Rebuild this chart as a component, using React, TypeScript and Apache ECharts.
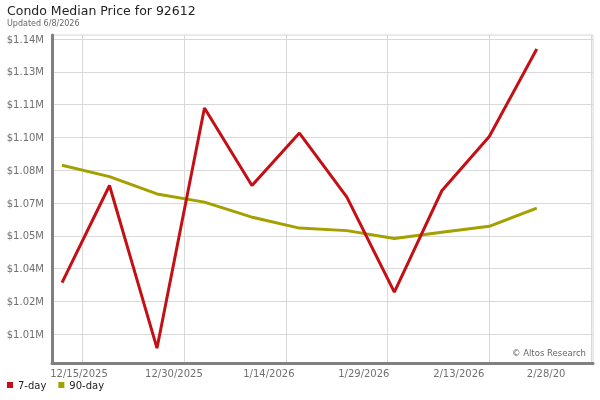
import React, { useEffect, useRef } from "react";
import * as echarts from "echarts";

const dates = [
  "2025-12-12", "2025-12-19", "2025-12-26", "2026-01-02", "2026-01-09", "2026-01-16",
  "2026-01-23", "2026-01-30", "2026-02-06", "2026-02-13", "2026-02-20",
];
const sevenDay = [
  1032900, 1075500, 1004100, 1109500, 1075500, 1098500, 1070400, 1028700, 1073200, 1097000, 1135400,
];
const ninetyDay = [
  1084400, 1079400, 1071800, 1068200, 1061600, 1056800, 1055700, 1052200, 1055000, 1057600, 1065600,
];
const xTickDates = ["2025-12-15", "2025-12-30", "2026-01-14", "2026-01-29", "2026-02-13", "2026-02-28"];
const xLabelDates = [
  "2025-12-14T12:00", "2025-12-28T12:00", "2026-01-11T12:00", "2026-01-25T12:00", "2026-02-08T12:00", "2026-02-21T09:00",
];
const xLabels = ["12/15/2025", "12/30/2025", "1/14/2026", "1/29/2026", "2/13/2026", "2/28/20"];
const yTicks = [1010200, 1024600, 1039000, 1053400, 1067800, 1082200, 1096600, 1111000, 1125400, 1139800];

const ts = (s: string) => new Date(s.length === 10 ? s + "T00:00" : s).getTime();

export default function App() {
  const ref = useRef<HTMLDivElement>(null);
  useEffect(() => {
    if (!ref.current) return;
    const chart = echarts.init(ref.current, null, { renderer: "svg" });
    const font = "DejaVu Sans";
    const labelTs = xLabelDates.map(ts);
    chart.setOption({
      animation: false,
      textStyle: { fontFamily: font },
      title: {
        text: "Condo Median Price for 92612",
        subtext: "Updated 6/8/2026",
        left: 2,
        top: 2,
        itemGap: 2,
        padding: [2, 5, 2, 5],
        textStyle: { fontFamily: font, fontSize: 12.5, fontWeight: "normal", color: "#222" },
        subtextStyle: { fontFamily: font, fontSize: 8, color: "#666" },
      },
      legend: {
        data: ["7-day", "90-day"],
        left: 2,
        bottom: 5,
        icon: "rect",
        itemWidth: 6,
        itemHeight: 6,
        itemGap: 12,
        textStyle: { fontFamily: font, fontSize: 10, color: "#222" },
      },
      grid: {
        left: 52,
        right: 7,
        top: 35,
        bottom: 37,
        show: true,
        borderColor: "#d6d6d6",
        borderWidth: 1,
      },
      xAxis: {
        type: "value",
        min: ts("2025-12-10T12:30"),
        max: ts("2026-02-28T07:00"),
        axisLine: { show: true, lineStyle: { color: "#808080", width: 3 } },
        axisTick: { show: false, customValues: xTickDates.map(ts) },
        splitLine: { show: true, lineStyle: { color: "#d9d9d9", width: 1 } },
        axisLabel: {
          customValues: labelTs,
          formatter: (v: number) => {
            const i = labelTs.findIndex((t) => Math.abs(t - v) < 3600000);
            return i >= 0 ? xLabels[i] : "";
          },
          fontFamily: font,
          fontSize: 10,
          color: "#707070",
          margin: 5,
          hideOverlap: false,
        },
      },
      yAxis: {
        type: "value",
        min: 997600,
        max: 1141560,
        axisLine: { show: true, lineStyle: { color: "#808080", width: 3 } },
        axisTick: { show: false, customValues: yTicks },
        splitLine: { show: true, lineStyle: { color: "#d9d9d9", width: 1 } },
        axisLabel: {
          customValues: yTicks,
          formatter: (v: number) => "$" + (v / 1e6).toFixed(2) + "M",
          fontFamily: font,
          fontSize: 10,
          color: "#707070",
          margin: 8,
        },
      },
      graphic: [
        {
          type: "text",
          right: 14,
          top: 348,
          style: { text: "© Altos Research", fontFamily: font, fontSize: 8.5, fill: "#666" },
        },
      ],
      series: [
        {
          name: "90-day",
          type: "line",
          data: dates.map((d, i) => [ts(d), ninetyDay[i]]),
          showSymbol: false,
          lineStyle: { color: "#a3a000", width: 3 },
          itemStyle: { color: "#a3a000" },
        },
        {
          name: "7-day",
          type: "line",
          data: dates.map((d, i) => [ts(d), sevenDay[i]]),
          showSymbol: false,
          lineStyle: { color: "#c40f14", width: 3 },
          itemStyle: { color: "#c40f14" },
        },
      ],
    });
    return () => chart.dispose();
  }, []);
  return <div ref={ref} style={{ position: "fixed", left: 0, top: 0, width: 600, height: 400 }} />;
}
